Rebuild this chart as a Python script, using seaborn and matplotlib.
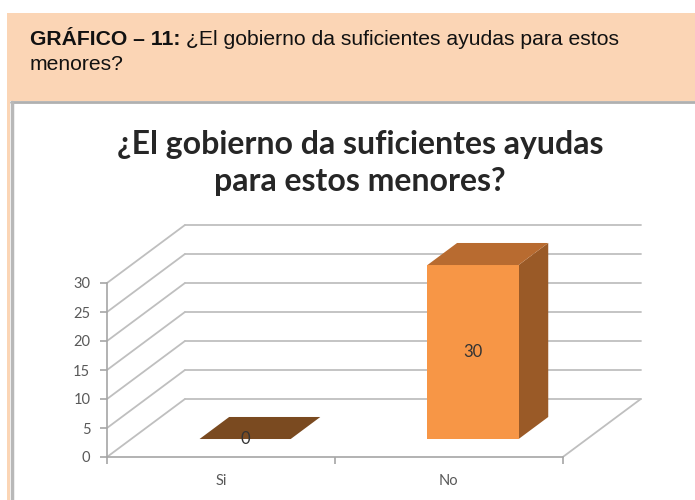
import matplotlib
matplotlib.use('Agg')
import matplotlib.pyplot as plt
import seaborn as sns
from matplotlib.patches import Polygon, Rectangle
from matplotlib.lines import Line2D

# Data
categories = ['Si', 'No']
values = [0, 30]
yticks = [0, 5, 10, 15, 20, 25, 30]

header_bold = 'GRÁFICO – 11:'
header_rest = ' ¿El gobierno da suficientes ayudas para estos'
header_line2 = 'menores?'
chart_title = '¿El gobierno da suficientes ayudas\npara estos menores?'

# Colours
front_col = '#F79646'
top_col = '#B86B30'
side_col = '#9A5A27'
zero_top_col = '#7A4A20'
grid_col = '#BFBFBF'
peach = '#FBD5B5'

# pseudo 3D depth (x in category units, y in value units)
depth_dx = 0.342
depth_dy = 10
d0, d1 = 0.31, 0.69

sns.set_theme(style='white')
plt.rcParams['font.family'] = ['Lato', 'DejaVu Sans']

W, H = 695, 500
fig = plt.figure(figsize=(W / 100, H / 100), dpi=100)


def fx(px):
    return px / W


def fy(py):
    return 1 - py / H


# Header band and frame
fig.add_artist(Rectangle((fx(7), fy(101)), fx(688), (101 - 13) / H, transform=fig.transFigure,
                         facecolor=peach, edgecolor='none', zorder=0))
fig.add_artist(Rectangle((fx(7), 0), fx(3), fy(101), transform=fig.transFigure,
                         facecolor=peach, edgecolor='none', zorder=0))
fig.add_artist(Line2D([fx(11), 1], [fy(102), fy(102)], transform=fig.transFigure,
                      color='#B0B0B0', lw=2))
fig.add_artist(Line2D([fx(12), fx(12)], [0, fy(102)], transform=fig.transFigure,
                      color='#B8B8B8', lw=2.5))

hsize = 15.2
t1 = fig.text(fx(30), fy(45), header_bold, fontsize=hsize, fontweight='bold',
              family='Liberation Sans', color='#111111', va='baseline')
renderer = fig.canvas.get_renderer()
bb = t1.get_window_extent(renderer)
fig.text(bb.x1 / fig.dpi / fig.get_figwidth(), fy(45), header_rest, fontsize=hsize,
         family='Liberation Sans', color='#111111', va='baseline')
fig.text(fx(30), fy(70), header_line2, fontsize=hsize, family='Liberation Sans',
         color='#111111', va='baseline')

# Chart title
fig.text(fx(360), fy(163), chart_title, fontsize=23, fontweight='bold', ha='center',
         va='center', color='#262626', linespacing=1.3)

# Axes: 228 px per category, 5.8 px per unit
ax = fig.add_axes([fx(107), 43 / H, (654 - 107) / W, 41 * 5.8 / H])
ax.patch.set_alpha(0)

sns.barplot(x=categories, y=values, width=0.4, color=front_col, saturation=1, ax=ax, zorder=3)

# walls and floor
for v in yticks:
    ax.plot([-0.5 + depth_dx, 1.5 + depth_dx], [v + depth_dy, v + depth_dy], color=grid_col, lw=1.3, zorder=1)
    ax.plot([-0.5, -0.5 + depth_dx], [v, v + depth_dy], color=grid_col, lw=1.3, zorder=1)
ax.plot([1.5, 1.5 + depth_dx], [0, depth_dy], color=grid_col, lw=1.3, zorder=1)

ddx = (d1 - d0) * depth_dx
ddy = (d1 - d0) * depth_dy
for p, v in zip(ax.patches, values):
    p.set_x(p.get_x() + d0 * depth_dx)
    p.set_y(d0 * depth_dy)
    p.set_edgecolor('none')
    x0, x1 = p.get_x(), p.get_x() + p.get_width()
    y0, y1 = p.get_y(), p.get_y() + p.get_height()
    side = Polygon([(x1, y0), (x1 + ddx, y0 + ddy), (x1 + ddx, y1 + ddy), (x1, y1)],
                   facecolor=side_col, edgecolor='none', zorder=2.5)
    top = Polygon([(x0, y1), (x1, y1), (x1 + ddx, y1 + ddy), (x0 + ddx, y1 + ddy)],
                  facecolor=zero_top_col if v == 0 else top_col, edgecolor='none', zorder=3.5)
    ax.add_patch(side)
    ax.add_patch(top)
    ax.text((x0 + x1) / 2, (y0 + y1) / 2, f'{v}', ha='center', va='center',
            fontsize=12, color='#333333', zorder=5)

ax.set_xlim(-0.5, 1.9)
ax.set_ylim(0, 41)

sns.despine(ax=ax, top=True, right=True)
ax.spines['left'].set_bounds(0, 30)
ax.spines['bottom'].set_bounds(-0.5, 1.5)
for s in ['left', 'bottom']:
    ax.spines[s].set_color('#A6A6A6')
    ax.spines[s].set_linewidth(1.2)

ax.set_yticks(yticks)
ax.set_yticklabels([str(t) for t in yticks])
ax.tick_params(axis='y', left=True, length=5, width=1.2, color='#A6A6A6', pad=7,
               labelsize=10.5, labelcolor='#595959')
ax.set_xticks([0, 1])
ax.set_xticklabels(categories)
ax.set_xticks([-0.5, 0.5, 1.5], minor=True)
ax.tick_params(axis='x', which='major', bottom=False, length=0, pad=12, labelsize=10.5,
               labelcolor='#595959')
ax.tick_params(axis='x', which='minor', bottom=True, length=5, width=1.2, color='#A6A6A6')
ax.set_xlabel('')
ax.set_ylabel('')

fig.savefig('out.png', dpi=100)
